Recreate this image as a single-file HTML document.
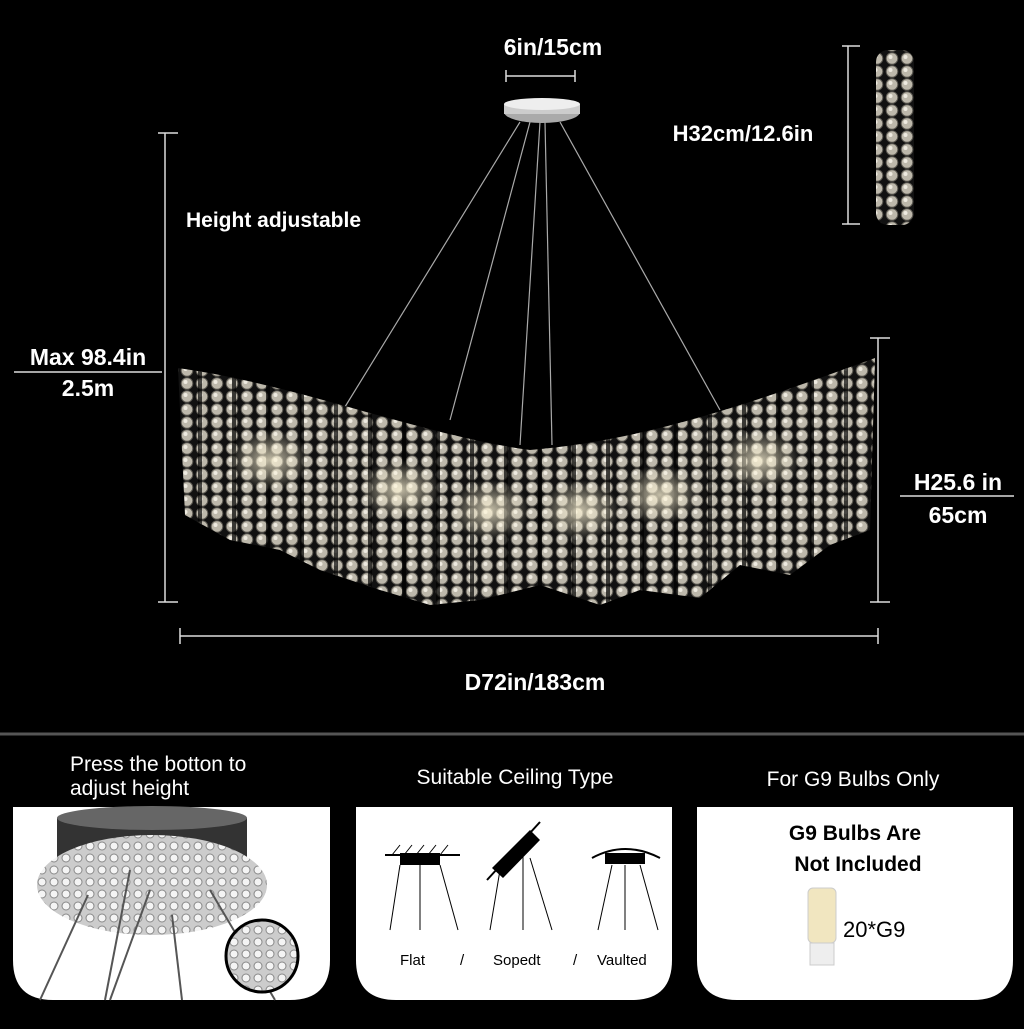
<!DOCTYPE html>
<html><head><meta charset="utf-8"><style>
body{margin:0;background:#000;width:1024px;height:1024px;overflow:hidden;font-family:"Liberation Sans",sans-serif}
</style></head><body>
<svg width="1024" height="1024" viewBox="0 0 1024 1024" xmlns="http://www.w3.org/2000/svg" font-family="Liberation Sans, sans-serif">
<defs>
<pattern id="cr" width="15" height="13" patternUnits="userSpaceOnUse">
<rect width="15" height="13" fill="#111"/>
<circle cx="7" cy="6.5" r="5.8" fill="#bdb8ab" stroke="#5a5750" stroke-width="1"/>
<circle cx="5.5" cy="5" r="2" fill="#eeeae0"/>
</pattern>
<pattern id="gaps" width="34" height="600" patternUnits="userSpaceOnUse">
<rect x="28" y="0" width="4" height="600" fill="#000" opacity="0.7"/>
</pattern>
<radialGradient id="glow" cx="0.5" cy="0.5" r="0.5"><stop offset="0" stop-color="#fff6d8" stop-opacity="0.75"/><stop offset="1" stop-color="#fff6d8" stop-opacity="0"/></radialGradient>
<pattern id="cr2" width="12" height="12" patternUnits="userSpaceOnUse">
<rect width="12" height="12" fill="#ccc"/>
<circle cx="6" cy="6" r="4" fill="#f4f4f4" stroke="#888" stroke-width="1"/>
</pattern>
</defs>
<g stroke="#ddd" stroke-width="1.5" fill="none">
<line x1="506" y1="76" x2="575" y2="76"/><line x1="506" y1="70" x2="506" y2="82"/><line x1="575" y1="70" x2="575" y2="82"/>
<line x1="165" y1="133" x2="165" y2="602"/><line x1="158" y1="133" x2="178" y2="133"/><line x1="158" y1="602" x2="178" y2="602"/>
<line x1="878" y1="338" x2="878" y2="602"/><line x1="870" y1="338" x2="890" y2="338"/><line x1="870" y1="602" x2="890" y2="602"/>
<line x1="180" y1="636" x2="878" y2="636"/><line x1="180" y1="628" x2="180" y2="644"/><line x1="878" y1="628" x2="878" y2="644"/>
<line x1="848" y1="46" x2="848" y2="224"/><line x1="842" y1="46" x2="860" y2="46"/><line x1="842" y1="224" x2="860" y2="224"/>
<line x1="14" y1="372" x2="162" y2="372"/>
<line x1="900" y1="496" x2="1014" y2="496"/>
</g>
<g fill="#fff" font-weight="bold" font-size="23">
<text x="553" y="55" text-anchor="middle">6in/15cm</text>
<text x="186" y="227" font-size="21">Height adjustable</text>
<text x="88" y="365" text-anchor="middle">Max 98.4in</text>
<text x="88" y="396" text-anchor="middle">2.5m</text>
<text x="743" y="141" text-anchor="middle" font-size="22">H32cm/12.6in</text>
<text x="958" y="490" text-anchor="middle">H25.6 in</text>
<text x="958" y="523" text-anchor="middle">65cm</text>
<text x="535" y="690" text-anchor="middle">D72in/183cm</text>
</g>
<ellipse cx="542" cy="112" rx="38" ry="11" fill="#aaa"/>
<rect x="504" y="104" width="76" height="10" fill="#ccc"/>
<ellipse cx="542" cy="104" rx="38" ry="6" fill="#eee"/>
<g stroke="#aaa" stroke-width="1.2">
<line x1="520" y1="122" x2="340" y2="415"/><line x1="530" y1="122" x2="450" y2="420"/>
<line x1="540" y1="122" x2="520" y2="445"/><line x1="545" y1="122" x2="552" y2="445"/>
<line x1="560" y1="122" x2="720" y2="410"/>
</g>
<path d="M178,368 C300,385 420,435 530,450 C650,440 760,400 875,358 L870,530 L830,545 L790,575 L740,565 L700,598 L640,590 L600,605 L540,585 L480,600 L430,605 L380,590 L320,570 L280,550 L230,540 L185,515 Z" fill="url(#cr)"/>
<path d="M178,368 C300,385 420,435 530,450 C650,440 760,400 875,358 L870,530 L830,545 L790,575 L740,565 L700,598 L640,590 L600,605 L540,585 L480,600 L430,605 L380,590 L320,570 L280,550 L230,540 L185,515 Z" fill="url(#gaps)"/>
<g>
<ellipse cx="270" cy="460" rx="40" ry="30" fill="url(#glow)"/>
<ellipse cx="400" cy="490" rx="40" ry="30" fill="url(#glow)"/>
<ellipse cx="490" cy="510" rx="40" ry="30" fill="url(#glow)"/>
<ellipse cx="580" cy="510" rx="40" ry="30" fill="url(#glow)"/>
<ellipse cx="660" cy="495" rx="40" ry="30" fill="url(#glow)"/>
<ellipse cx="760" cy="460" rx="40" ry="30" fill="url(#glow)"/>
</g>
<rect x="876" y="50" width="38" height="175" rx="12" fill="url(#cr)"/>
<line x1="0" y1="734" x2="1024" y2="734" stroke="#555" stroke-width="3"/>
<g fill="#fff" font-size="21">
<text x="70" y="771">Press the botton to</text>
<text x="70" y="795">adjust height</text>
<text x="515" y="784" text-anchor="middle">Suitable Ceiling Type</text>
<text x="853" y="786" text-anchor="middle">For G9 Bulbs Only</text>
</g>
<path d="M13,807 H330 V960 Q330,1000 290,1000 H53 Q13,1000 13,960 Z" fill="#fff"/>
<path d="M356,807 H672 V960 Q672,1000 632,1000 H396 Q356,1000 356,960 Z" fill="#fff"/>
<path d="M697,807 H1013 V960 Q1013,1000 973,1000 H737 Q697,1000 697,960 Z" fill="#fff"/>
<rect x="57" y="818" width="190" height="50" fill="#333"/>
<ellipse cx="152" cy="818" rx="95" ry="12" fill="#666"/>
<ellipse cx="152" cy="885" rx="115" ry="50" fill="url(#cr2)"/>
<g stroke="#555" stroke-width="2">
<line x1="88" y1="895" x2="40" y2="1000"/><line x1="130" y1="870" x2="105" y2="1000"/><line x1="150" y1="890" x2="110" y2="1000"/><line x1="172" y1="915" x2="182" y2="1000"/><line x1="210" y1="890" x2="275" y2="1000"/>
</g>
<circle cx="262" cy="956" r="36" fill="url(#cr2)" stroke="#000" stroke-width="3"/>
<g stroke="#000" fill="none" stroke-width="1">
<line x1="385" y1="855" x2="460" y2="855" stroke-width="2"/>
<path d="M392,855 l8,-10 M404,855 l8,-10 M416,855 l8,-10 M428,855 l8,-10 M440,855 l8,-10"/>
<line x1="400" y1="865" x2="390" y2="930"/><line x1="420" y1="865" x2="420" y2="930"/><line x1="440" y1="865" x2="458" y2="930"/>
<line x1="487" y1="880" x2="540" y2="822" stroke-width="2"/>
<line x1="500" y1="870" x2="490" y2="930"/><line x1="523" y1="850" x2="523" y2="930"/><line x1="530" y1="858" x2="552" y2="930"/>
<path d="M592,858 Q625,840 660,858" stroke-width="2"/>
<line x1="612" y1="865" x2="598" y2="930"/><line x1="625" y1="865" x2="625" y2="930"/><line x1="640" y1="865" x2="658" y2="930"/>
</g>
<rect x="400" y="853" width="40" height="12" fill="#000"/>
<polygon points="492,868 530,830 540,840 503,878" fill="#000"/>
<rect x="605" y="853" width="40" height="11" fill="#000"/>
<g font-size="15" fill="#000"><text x="400" y="965">Flat</text><text x="460" y="965">/</text><text x="493" y="965">Sopedt</text><text x="573" y="965">/</text><text x="597" y="965">Vaulted</text></g>
<g fill="#000" font-weight="bold" font-size="21" text-anchor="middle"><text x="855" y="840">G9 Bulbs Are</text><text x="858" y="871">Not Included</text></g>
<rect x="808" y="888" width="28" height="55" rx="5" fill="#f1e6c0" stroke="#ccc"/>
<rect x="810" y="943" width="24" height="22" fill="#eee" stroke="#ccc"/>
<text x="843" y="937" font-size="22" fill="#000">20*G9</text>
</svg>
</body></html>
